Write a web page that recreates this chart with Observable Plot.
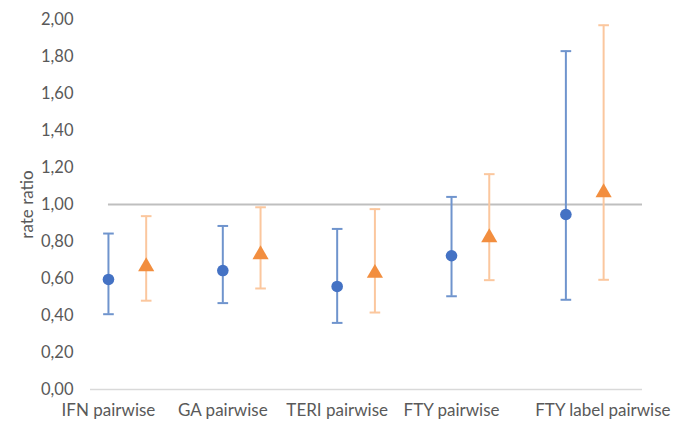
<!DOCTYPE html>
<html>
<head>
<meta charset="utf-8">
<script src="https://cdn.jsdelivr.net/npm/d3@7"></script>
<script src="https://cdn.jsdelivr.net/npm/@observablehq/plot@0.6"></script>
<style>
  html, body { margin: 0; padding: 0; background: #fff; }
  #chart { width: 684px; height: 425px; }
</style>
</head>
<body>
<div id="chart"></div>
<script>
const categories = ["IFN pairwise", "GA pairwise", "TERI pairwise", "FTY pairwise", "FTY label pairwise"];
const blueEst = [0.595, 0.643, 0.557, 0.723, 0.946];
const blueLo  = [0.407, 0.467, 0.360, 0.504, 0.485];
const blueHi  = [0.843, 0.884, 0.868, 1.041, 1.829];
const orangeEst = [0.670, 0.735, 0.634, 0.827, 1.070];
const orangeLo  = [0.480, 0.546, 0.416, 0.591, 0.593];
const orangeHi  = [0.937, 0.985, 0.975, 1.164, 1.969];
const yTicks = [0, 0.2, 0.4, 0.6, 0.8, 1.0, 1.2, 1.4, 1.6, 1.8, 2.0];
const yTitle = "rate ratio";
const referenceValue = 1.0;

const blueOffset = 0;
const orangeOffset = 0.33;

const blue = categories.map((c, i) => ({cat: c, x: i + 1 + blueOffset, est: blueEst[i], lo: blueLo[i], hi: blueHi[i]}));
const orange = categories.map((c, i) => ({cat: c, x: i + 1 + orangeOffset, est: orangeEst[i], lo: orangeLo[i], hi: orangeHi[i]}));
const caps = (rows) => rows.flatMap(d => [{x: d.x, y: d.lo}, {x: d.x, y: d.hi}]);

const capSymbol = {
  draw(context, size) {
    const w = Math.sqrt(size) / 2;
    context.moveTo(-w, 0);
    context.lineTo(w, 0);
  }
};

const xDomain = [0.843, 5.67];
const font = "Lato, 'Open Sans', sans-serif";
const grayText = "#595959";
const fmt = d => d.toFixed(2).replace(".", ",");

const labels = categories.map((c, i) => ({cat: c, x: i + 1, last: i === categories.length - 1}));

const chart = Plot.plot({
  width: 684,
  height: 425,
  marginTop: 19,
  marginBottom: 36,
  marginLeft: 90,
  marginRight: 42,
  style: {fontFamily: font, fontSize: "16px", color: grayText, background: "#fff"},
  x: {domain: xDomain, axis: null},
  y: {domain: [0, 2], label: null},
  marks: [
    Plot.axisY({ticks: yTicks, tickSize: 0, tickPadding: 17, tickFormat: fmt, fontSize: 16.5, fill: grayText, label: null}),
    Plot.axisY({ticks: [], tickSize: 0, label: yTitle, labelAnchor: "center", labelArrow: "none", labelOffset: 70, fontSize: 17, fill: grayText}),
    Plot.ruleY([0], {stroke: "#d9d9d9", strokeWidth: 1.5}),
    Plot.ruleY([referenceValue], {x1: 1, x2: xDomain[1], stroke: "#bfbfbf", strokeWidth: 2}),
    // blue error bars
    Plot.ruleX(blue, {x: "x", y1: "lo", y2: "hi", stroke: "#6f94cd", strokeWidth: 2}),
    Plot.dot(caps(blue), {x: "x", y: "y", symbol: capSymbol, r: 6, fill: "none", stroke: "#6f94cd", strokeWidth: 2}),
    // orange error bars
    Plot.ruleX(orange, {x: "x", y1: "lo", y2: "hi", stroke: "#fbc79e", strokeWidth: 2}),
    Plot.dot(caps(orange), {x: "x", y: "y", symbol: capSymbol, r: 6, fill: "none", stroke: "#fbc79e", strokeWidth: 2}),
    // markers
    Plot.dot(blue, {x: "x", y: "est", r: 5.8, fill: "#4472c4", stroke: "none", symbol: "circle"}),
    Plot.dot(orange, {x: "x", y: "est", r: 6, fill: "#f28e3f", stroke: "none", symbol: "triangle", dy: 1}),
    // x category labels
    Plot.text(labels.filter(d => !d.last), {x: "x", y: 0, text: "cat", dy: 21, fontSize: 17, fill: grayText}),
    Plot.text(labels.filter(d => d.last), {x: "x", y: 0, text: "cat", dy: 21, dx: 37, fontSize: 17, fill: grayText})
  ]
});

document.getElementById("chart").appendChild(chart);
</script>
</body>
</html>
